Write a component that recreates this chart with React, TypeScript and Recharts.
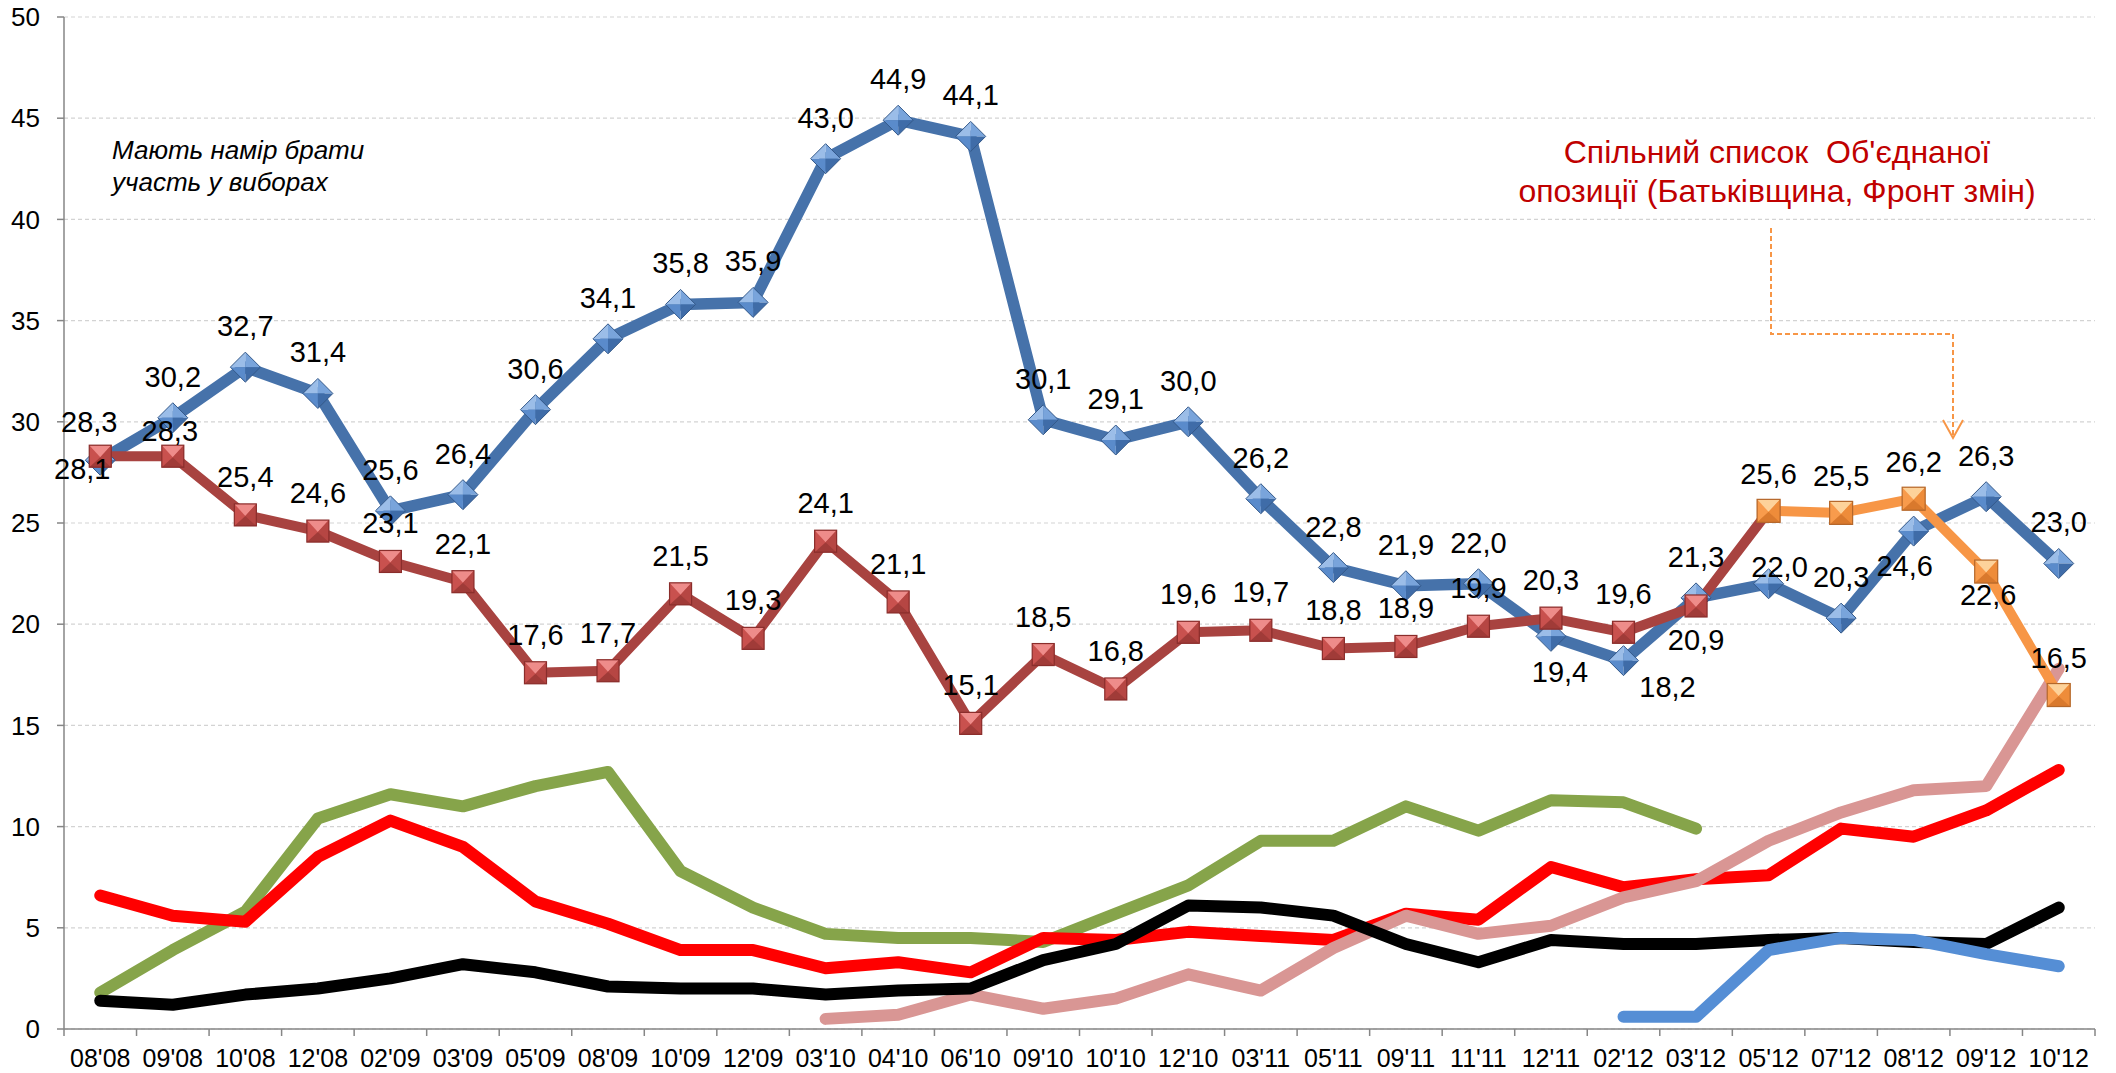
import React from 'react';
import { LineChart, Line, XAxis, YAxis, CartesianGrid, LabelList } from 'recharts';

// ---------- data ----------
const categories = ["08'08", "09'08", "10'08", "12'08", "02'09", "03'09", "05'09", "08'09", "10'09", "12'09", "03'10", "04'10", "06'10", "09'10", "10'10", "12'10", "03'11", "05'11", "09'11", "11'11", "12'11", "02'12", "03'12", "05'12", "07'12", "08'12", "09'12", "10'12"];

const regionsValues = [28.1, 30.2, 32.7, 31.4, 25.6, 26.4, 30.6, 34.1, 35.8, 35.9, 43.0, 44.9, 44.1, 30.1, 29.1, 30.0, 26.2, 22.8, 21.9, 22.0, 19.4, 18.2, 21.3, 22.0, 20.3, 24.6, 26.3, 23.0];
const batkValues = [28.3, 28.3, 25.4, 24.6, 23.1, 22.1, 17.6, 17.7, 21.5, 19.3, 24.1, 21.1, 15.1, 18.5, 16.8, 19.6, 19.7, 18.8, 18.9, 19.9, 20.3, 19.6, 20.9, 25.6, null, null, null, null];
const oppositionValues = [null, null, null, null, null, null, null, null, null, null, null, null, null, null, null, null, null, null, null, null, null, null, null, 25.6, 25.5, 26.2, 22.6, 16.5];
const greenValues = [1.8, 3.9, 5.8, 10.4, 11.6, 11.0, 12.0, 12.7, 7.8, 6.0, 4.7, 4.5, 4.5, 4.3, 5.7, 7.1, 9.3, 9.3, 11.0, 9.8, 11.3, 11.2, 9.9, null, null, null, null, null];
const redValues = [6.6, 5.6, 5.3, 8.5, 10.3, 9.0, 6.3, 5.2, 3.9, 3.9, 3.0, 3.3, 2.8, 4.5, 4.4, 4.8, 4.6, 4.4, 5.7, 5.4, 8.0, 7.0, 7.4, 7.6, 9.9, 9.5, 10.8, 12.8];
const blackValues = [1.4, 1.2, 1.7, 2.0, 2.5, 3.2, 2.8, 2.1, 2.0, 2.0, 1.7, 1.9, 2.0, 3.4, 4.2, 6.1, 6.0, 5.6, 4.2, 3.3, 4.4, 4.2, 4.2, 4.4, 4.5, 4.3, 4.2, 6.0];
const pinkValues = [null, null, null, null, null, null, null, null, null, null, 0.5, 0.7, 1.7, 1.0, 1.5, 2.7, 1.9, 4.0, 5.6, 4.7, 5.1, 6.5, 7.3, 9.3, 10.7, 11.8, 12.0, 17.8];
const lightBlueValues = [null, null, null, null, null, null, null, null, null, null, null, null, null, null, null, null, null, null, null, null, null, 0.6, 0.6, 3.9, 4.5, 4.4, 3.7, 3.1];

const yTicks = [0, 5, 10, 15, 20, 25, 30, 35, 40, 45, 50];

// ---------- layout ----------
const W = 2116;
const H = 1073;
const MARGIN = { top: 17, right: 21, bottom: 0, left: 0 };
const Y_AXIS_W = 64;
const X_AXIS_H = 44;
const BAND = (W - Y_AXIS_W - MARGIN.right) / categories.length;
const FONT = '"Liberation Sans", Arial, Helvetica, sans-serif';
const AXIS_COLOR = '#868686';

// label offsets (baseline relative to point): [dx, dy]; 'hide' to omit
type Off = [number, number] | 'hide';
const blueLabelOffsets: Record<number, Off> = {
  0: [-18, 19], 20: [9, 46], 21: [44, 36], 23: [11, -7], 25: [-9, 45],
};
const batkLabelOffsets: Record<number, Off> = {
  0: [-11, -24], 1: [-3, -15], 22: [0, 44], 23: 'hide',
};
const oppLabelOffsets: Record<number, Off> = {
  26: [2, 33],
};

const rows = categories.map((c, i) => ({
  cat: c,
  regions: regionsValues[i],
  batk: batkValues[i],
  opp: oppositionValues[i],
  green: greenValues[i],
  red: redValues[i],
  black: blackValues[i],
  pink: pinkValues[i],
  lblue: lightBlueValues[i],
}));

const fmt = (v: number) => v.toFixed(1).replace('.', ',');

const makeLabel = (offsets: Record<number, Off>, defDy: number) => (props: any) => {
  const { value, index } = props;
  const x = props.x ?? props.viewBox?.x;
  const y = props.y ?? props.viewBox?.y;
  if (value == null || x == null || y == null || isNaN(x) || isNaN(y)) return null;
  const off = offsets[index];
  if (off === 'hide') return null;
  const [dx, dy] = off ?? [0, defDy];
  return (
    <text key={`lbl-${index}`} x={x + dx} y={y + dy} textAnchor="middle" fontSize={29} fontFamily={FONT} fill="#000">
      {fmt(Number(value))}
    </text>
  );
};

const Diamond = (props: any) => {
  const { cx, cy, value, index } = props;
  if (value == null || cx == null || cy == null) return <g key={`dm-${index}`} />;
  const r = 15;
  const N = `${cx},${cy - r}`, E = `${cx + r},${cy}`, S = `${cx},${cy + r}`, Wp = `${cx - r},${cy}`, C = `${cx},${cy}`;
  return (
    <g key={`dm-${index}`}>
      <polygon points={`${N} ${Wp} ${C}`} fill="#9BBDE8" />
      <polygon points={`${N} ${E} ${C}`} fill="#79A4DB" />
      <polygon points={`${S} ${Wp} ${C}`} fill="#5A8BCB" />
      <polygon points={`${S} ${E} ${C}`} fill="#3F6CA8" />
      <polygon points={`${N} ${E} ${S} ${Wp}`} fill="none" stroke="#34598A" strokeWidth={1} />
    </g>
  );
};

const makeSquare = (cols: string[], border: string, half: number) => (props: any) => {
  const { cx, cy, value, index } = props;
  if (value == null || cx == null || cy == null) return <g key={`sq-${index}`} />;
  const h = half;
  const TL = `${cx - h},${cy - h}`, TR = `${cx + h},${cy - h}`, BR = `${cx + h},${cy + h}`, BL = `${cx - h},${cy + h}`;
  const C = `${cx},${cy + 1}`;
  return (
    <g key={`sq-${index}`}>
      <rect x={cx - h} y={cy - h} width={2 * h} height={2 * h} fill={cols[1]} />
      <polygon points={`${TL} ${TR} ${C}`} fill={cols[0]} />
      <polygon points={`${TR} ${BR} ${C}`} fill={cols[2]} />
      <polygon points={`${BL} ${BR} ${C}`} fill={cols[3]} />
      <rect x={cx - h} y={cy - h} width={2 * h} height={2 * h} fill="none" stroke={border} strokeWidth={1.2} />
    </g>
  );
};

const RedSquare = makeSquare(['#EE8C8A', '#C9514E', '#B64643', '#A03B38'], '#8A2D2B', 11);
const OrangeSquare = makeSquare(['#FDD29A', '#F89B4C', '#EE8C3A', '#D9792D'], '#B4672A', 11.5);

const XTick = (props: any) => {
  const { x, y, payload, index } = props;
  const left = x - BAND / 2;
  const right = x + BAND / 2;
  return (
    <g>
      <line x1={left} y1={y} x2={left} y2={y + 7} stroke={AXIS_COLOR} strokeWidth={1.5} />
      {index === categories.length - 1 && (
        <line x1={right} y1={y} x2={right} y2={y + 7} stroke={AXIS_COLOR} strokeWidth={1.5} />
      )}
      <text x={x} y={y + 38} textAnchor="middle" fontSize={25} fontFamily={FONT} fill="#000">
        {payload.value}
      </text>
    </g>
  );
};

const thin = (key: string, color: string, width = 12) => (
  <Line
    key={key}
    type="linear"
    dataKey={key}
    stroke={color}
    strokeWidth={width}
    strokeLinecap="round"
    strokeLinejoin="round"
    dot={false}
    activeDot={false}
    connectNulls={false}
    isAnimationActive={false}
  />
);

export default function App() {
  return (
    <div style={{ position: 'absolute', left: 0, top: 0, width: W, height: H, background: '#fff' }}>
      <LineChart width={W} height={H} data={rows} margin={MARGIN}>
        <CartesianGrid vertical={false} stroke="#D3D3D3" strokeDasharray="4 3" strokeWidth={1.2} />
        <XAxis
          dataKey="cat"
          interval={0}
          height={X_AXIS_H}
          padding={{ left: BAND / 2, right: BAND / 2 }}
          tickLine={false}
          tickSize={0}
          tickMargin={0}
          axisLine={{ stroke: AXIS_COLOR, strokeWidth: 1.5 }}
          tick={<XTick />}
        />
        <YAxis
          type="number"
          domain={[0, 50]}
          ticks={yTicks}
          interval={0}
          width={Y_AXIS_W}
          tickSize={7}
          tickMargin={17}
          axisLine={{ stroke: AXIS_COLOR, strokeWidth: 1.5 }}
          tickLine={{ stroke: AXIS_COLOR, strokeWidth: 1.5 }}
          tick={{ fontSize: 26, fill: '#000', fontFamily: FONT }}
        />
        {thin('green', '#86A44A')}
        {thin('red', '#FF0000')}
        {thin('pink', '#D99694')}
        {thin('black', '#000000')}
        {thin('lblue', '#558ED5')}
        <Line
          type="linear"
          dataKey="regions"
          stroke="#4672AA"
          strokeWidth={11.5}
          strokeLinejoin="round"
          dot={Diamond}
          activeDot={false}
          isAnimationActive={false}
        >
          <LabelList dataKey="regions" content={makeLabel(blueLabelOffsets, -31)} />
        </Line>
        <Line
          type="linear"
          dataKey="batk"
          stroke="#A84340"
          strokeWidth={10}
          strokeLinejoin="round"
          dot={RedSquare}
          activeDot={false}
          connectNulls={false}
          isAnimationActive={false}
        >
          <LabelList dataKey="batk" content={makeLabel(batkLabelOffsets, -28)} />
        </Line>
        <Line
          type="linear"
          dataKey="opp"
          stroke="#F79646"
          strokeWidth={10}
          strokeLinejoin="round"
          dot={OrangeSquare}
          activeDot={false}
          connectNulls={false}
          isAnimationActive={false}
        >
          <LabelList dataKey="opp" content={makeLabel(oppLabelOffsets, -27)} />
        </Line>
      </LineChart>
      <svg width={W} height={H} style={{ position: 'absolute', left: 0, top: 0, pointerEvents: 'none' }}>
        <text fontFamily={FONT} fontSize={26} fontStyle="italic" fill="#000">
          <tspan x={112} y={159}>Мають намір брати</tspan>
          <tspan x={112} y={191}>участь у виборах</tspan>
        </text>
        <text fontFamily={FONT} fontSize={32} fill="#C00000" textAnchor="middle" style={{ whiteSpace: 'pre' }}>
          <tspan x={1777} y={163}>{'Спільний список  Об\'єднаної'}</tspan>
          <tspan x={1777} y={202}>опозиції (Батьківщина, Фронт змін)</tspan>
        </text>
        <path d="M1771 228 V334 H1953 V436" fill="none" stroke="#F79646" strokeWidth={2} strokeDasharray="5 3" />
        <polyline points="1943,420 1953,438 1963,420" fill="none" stroke="#F79646" strokeWidth={2} />
      </svg>
    </div>
  );
}
